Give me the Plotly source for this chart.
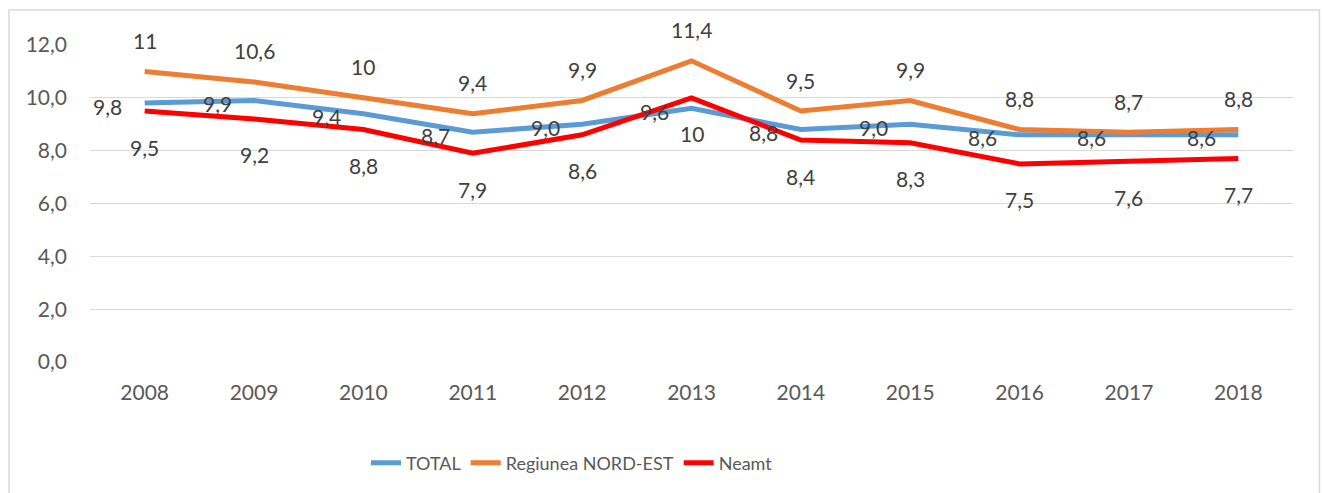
import plotly.graph_objects as go

years = ["2008", "2009", "2010", "2011", "2012", "2013", "2014", "2015", "2016", "2017", "2018"]
total = [9.8, 9.9, 9.4, 8.7, 9.0, 9.6, 8.8, 9.0, 8.6, 8.6, 8.6]
nord_est = [11, 10.6, 10, 9.4, 9.9, 11.4, 9.5, 9.9, 8.8, 8.7, 8.8]
neamt = [9.5, 9.2, 8.8, 7.9, 8.6, 10, 8.4, 8.3, 7.5, 7.6, 7.7]
y_ticks = [0, 2, 4, 6, 8, 10, 12]
y_tick_labels = ["0,0", "2,0", "4,0", "6,0", "8,0", "10,0", "12,0"]

FONT = "Lato, Carlito, Calibri, sans-serif"
LABEL_COLOR = "#404040"
FS = 21


def fmt_fixed(v):
    return f"{v:.1f}".replace(".", ",")


def fmt_general(v):
    return f"{v:g}".replace(".", ",")


fig = go.Figure()
series = [
    ("TOTAL", total, "#5b9bd5"),
    ("Regiunea NORD-EST", nord_est, "#ed7d31"),
    ("Neamt", neamt, "#ff0000"),
]
xs = list(range(len(years)))
for name, vals, color in series:
    fig.add_trace(go.Scatter(
        x=xs, y=vals, name=name, mode="lines",
        line=dict(color=color, width=5),
        hoverinfo="skip",
    ))

annotations = []
for i in xs:
    annotations.append(dict(x=i, y=total[i], xref="x", yref="y", text=fmt_fixed(total[i]),
                            showarrow=False, xshift=-37, yshift=-3,
                            font=dict(family=FONT, size=FS, color=LABEL_COLOR)))
    annotations.append(dict(x=i, y=nord_est[i], xref="x", yref="y", text=fmt_general(nord_est[i]),
                            showarrow=False, xshift=0, yshift=31,
                            font=dict(family=FONT, size=FS, color=LABEL_COLOR)))
    annotations.append(dict(x=i, y=neamt[i], xref="x", yref="y", text=fmt_general(neamt[i]),
                            showarrow=False, xshift=0, yshift=-36,
                            font=dict(family=FONT, size=FS, color=LABEL_COLOR)))

fig.update_layout(
    width=1324, height=493,
    margin=dict(l=90, r=31, t=45, b=130),
    paper_bgcolor="white", plot_bgcolor="white",
    font=dict(family=FONT, size=FS, color="#595959"),
    annotations=annotations,
    showlegend=True,
    legend=dict(orientation="h", x=(572 - 90) / 1203, xanchor="center", y=-0.315, yanchor="middle",
                font=dict(family=FONT, size=18, color="#595959"),
                tracegroupgap=0),
    xaxis=dict(range=[-0.5, 10.5], tickvals=xs, ticktext=years,
               showgrid=False, zeroline=False, showline=False, ticks="",
               ticklabelstandoff=16, tickfont=dict(size=FS, color="#595959")),
    yaxis=dict(range=[0, 12], tickvals=y_ticks, ticktext=y_tick_labels,
               showgrid=True, gridcolor="#d9d9d9", gridwidth=1.3,
               zeroline=False, showline=False, ticks="", ticklabelstandoff=22,
               tickfont=dict(size=FS, color="#595959")),
    shapes=[dict(type="rect", xref="paper", yref="paper",
                 x0=-81 / 1203, x1=1.022, y0=-0.42, y1=1.0 + 35 / 318,
                 line=dict(color="#d9d9d9", width=1.5), fillcolor="rgba(0,0,0,0)",
                 layer="below")],
)

fig.write_html("out.html", config={"displayModeBar": False},
               post_script="document.body.style.margin='0';")
